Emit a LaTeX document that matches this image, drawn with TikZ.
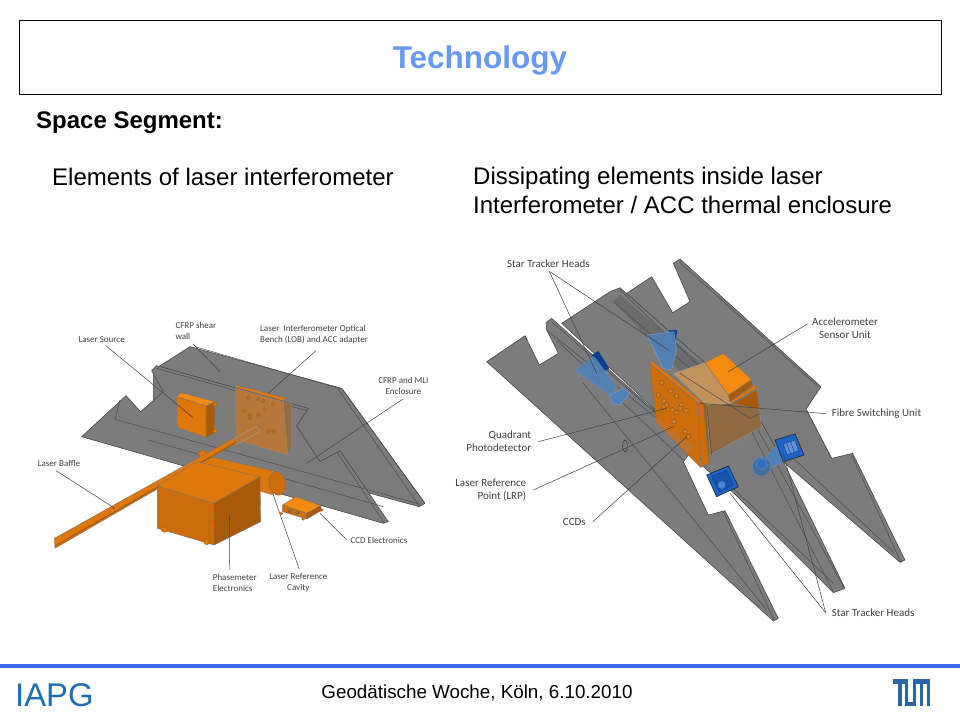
\documentclass[tikz,border=0pt]{standalone}
\usepackage{fontspec}
\setmainfont{Liberation Sans}
\newfontfamily\lblfont{Carlito}
\definecolor{titleblue}{HTML}{6699F5}
\definecolor{footblue}{HTML}{3C68E6}
\definecolor{iapgblue}{HTML}{1F6DB5}
\definecolor{tumblue}{HTML}{2A66A8}
\definecolor{plategray}{HTML}{7C7C7C}
\definecolor{orangeA}{HTML}{DF780C}
\definecolor{orangeB}{HTML}{CD6C0A}
\definecolor{orangeC}{HTML}{A85A08}
\definecolor{orangeL}{HTML}{F58A10}
\definecolor{tanA}{HTML}{B5773A}
\definecolor{tanB}{HTML}{C2935C}
\definecolor{tanC}{HTML}{8F6A42}
\definecolor{blueA}{HTML}{1E63C8}
\definecolor{blueB}{HTML}{4F82B8}
\definecolor{blueC}{HTML}{0C3F8C}
\tikzset{
  plate/.style={fill=plategray,draw=black!75,line width=.5pt,line join=round},
  edge/.style={draw=black!70,line width=.5pt},
  leader/.style={draw=black!75,line width=.5pt},
  lbl/.style={font=\lblfont\fontsize{9}{11}\selectfont,text=black!75,inner sep=1pt,align=center},
  lbll/.style={lbl,align=left,anchor=west},
  rlbl/.style={font=\lblfont\fontsize{11}{13}\selectfont,text=black!75,inner sep=1pt,align=center},
  rlbll/.style={rlbl,align=left,anchor=west},
  rlblr/.style={rlbl,align=right,anchor=east},
  org/.style={draw=black!55,line width=.35pt,line join=round},
  hole/.style={draw=orangeC,line width=.4pt,fill=tanA},
  slide/.style={font=\fontsize{24}{29}\selectfont,inner sep=0pt,align=left,anchor=west},
  tumbar/.style={fill=tumblue,draw=none},
  zoomleft/.style={shift={(20,300)},x=.33333pt,y=-.33333pt},
  zoomright/.style={shift={(450,240)},x=.33333pt,y=-.33333pt}
}
\begin{document}
\begin{tikzpicture}[x=1pt,y=-1pt]
\useasboundingbox (0,0) rectangle (960,720);
\fill[white] (0,0) rectangle (960,720);
% header
\draw[black,line width=1pt] (19.5,20.5) rectangle (941.5,94.5);
\node[font=\bfseries\fontsize{31.5}{36}\selectfont,text=titleblue,inner sep=0pt] (title) at (480,60) {Technology};
\node[slide,font=\bfseries\fontsize{24}{29}\selectfont] (seg) at (36,123) {Space Segment:};
\node[slide] (t1) at (52,177) {Elements of laser interferometer};
\node[slide,anchor=north west] (t2) at (473,167) {Dissipating elements inside laser\\Interferometer / ACC thermal enclosure};
% footer
\fill[footblue] (0,664) rectangle (960,668);
\node[font=\fontsize{32.8}{36}\selectfont,text=iapgblue,inner sep=0pt,anchor=west] (iapg) at (15,695) {IAPG};
\node[font=\fontsize{18.8}{24}\selectfont,inner sep=0pt] (foot) at (477,693) {Geodätische Woche, Köln, 6.10.2010};
\fill[tumbar] (893,679) rectangle (908,684);
\fill[tumbar] (897.5,684) rectangle (902,706);
\fill[tumbar] (905,684) rectangle (908,706);
\fill[tumbar] (905,701.5) rectangle (916,706);
\fill[tumbar] (913,679) rectangle (916,706);
\fill[tumbar] (913,679) rectangle (930,684);
\fill[tumbar] (920,684) rectangle (923,706);
\fill[tumbar] (927,684) rectangle (930,706);

% ---------- left figure
\begin{scope}[zoomleft]
% rear plate
\filldraw[plate] (400,210)--(510,140)--(965,265)--(1215,610)--(1197,620)--(830,520)--(400,400)--cycle;
\draw[edge] (525,140)--(968,268);
\draw[edge] (968,268)--(1215,610);
\draw[edge] (955,268)--(1197,617);
% front plate
\filldraw[plate] (185,410)--(318,287)--(362,335)--(430,275)--(395,212)--(410,197)--(865,325)--(830,378)--(900,485)--(960,452)--(1105,665)--(1090,670)--cycle;
\draw[edge] (410,205)--(860,332);
\draw[edge] (300,300)--(285,358)--(1197,612);
\draw[edge] (950,455)--(1092,668);
\draw[edge] (385,420)--(1090,620);
% laser source
\filldraw[org,fill=orangeC] (558,318)--(585,305)--(583,400)--(558,412)--cycle;
\filldraw[org,fill=orangeL] (470,290)--(482,278)--(585,305)--(558,318)--cycle;
\filldraw[org,fill=orangeA] (470,290)--(558,318)--(558,412)--(472,382)--cycle;
\filldraw[hole,fill=orangeA] (585,313) circle (6);
\filldraw[hole,fill=orangeA] (585,393) circle (6);
% bench
\filldraw[draw=black!45,line width=.3pt,fill=tanC] (790,305)--(815,310)--(815,435)--(803,465)--cycle;
\filldraw[draw=black!45,line width=.3pt,fill=tanA] (647,265)--(790,305)--(803,465)--(648,420)--cycle;
\filldraw[org,fill=orangeA] (647,255)--(795,293)--(792,303)--(647,262)--cycle;
\foreach \a/\b in {685/293,715/298,730/303,758/313,735/327,672/333,688/345,715/345,690/355,715/380,745/393,760/393}
  \filldraw[hole] (\a,\b) circle (5);
% cavity
\filldraw[org,fill=orangeA] (540,465)--(570,470)--(770,515)--(760,585)--(540,520)--cycle;
\filldraw[hole,fill=orangeA] (548,463) circle (12);
\filldraw[org,fill=orangeB,rotate around={10:(772,550)}] (772,550) ellipse (25 and 36);
% baffle
\filldraw[draw=black!35,line width=.3pt,fill=tanA] (640,418)--(712,378)--(720,395)--(648,434)--cycle;
\filldraw[org,fill=orangeA] (103,715)--(640,415)--(648,430)--(105,745)--cycle;
\draw[orangeC,line width=1.2pt] (105,738)--(646,428);
% phasemeter
\filldraw[org,fill=orangeC] (580,610)--(720,530)--(722,665)--(582,735)--cycle;
\filldraw[org,fill=orangeA] (412,558)--(530,485)--(720,530)--(580,610)--cycle;
\filldraw[org,fill=orangeB] (412,558)--(580,610)--(582,735)--(412,685)--cycle;
\filldraw[hole,fill=orangeA] (433,688) circle (9);
\filldraw[hole,fill=orangeA] (560,725) circle (9);
% CCD electronics
\filldraw[org,fill=orangeL] (788,615)--(828,590)--(903,617)--(860,640)--cycle;
\filldraw[org,fill=orangeB] (788,615)--(860,640)--(860,657)--(788,635)--cycle;
\filldraw[org,fill=orangeC] (860,640)--(903,617)--(903,632)--(860,657)--cycle;
\foreach \a/\b in {810/632,832/637} \filldraw[draw=black!70,line width=.3pt,fill=tanA] (\a,\b) circle (5);
\foreach \a/\b in {784/640,850/657,905/630} \filldraw[hole,fill=orangeA] (\a,\b) circle (4);
% labels
\node[lbl] (lsource) at (245,118) {Laser Source};
\node[lbll] (lwall) at (463,93) {CFRP shear\\wall};
\node[lbll] (lbench) at (717,105) {Laser\ \ Interferometer Optical\\Bench (LOB) and ACC adapter};
\node[lbl] (lmli) at (1150,258) {CFRP and MLI\\Enclosure};
\node[lbll] (lbaffle) at (50,490) {Laser Baffle};
\node[lbll] (lphase) at (575,849) {Phasemeter\\Electronics};
\node[lbl] (lcavity) at (835,849) {Laser Reference\\Cavity};
\node[lbll] (lccd) at (988,722) {CCD Electronics};
\coordinate (ea) at (518,352);
\coordinate (eb) at (600,215);
\coordinate (ec) at (745,280);
\coordinate (ed) at (860,490);
\coordinate (ee) at (285,625);
\coordinate (ef) at (628,645);
\coordinate (eg) at (760,585);
\coordinate (eh) at (900,640);
\draw[leader] ([xshift=4pt,yshift=-2pt]lsource.south)--(ea);
\draw[leader] ([xshift=-3pt,yshift=-3pt]lwall.south)--(eb);
\draw[leader] ([xshift=2pt,yshift=-5pt]lbench.south)--(ec);
\draw[leader] ([yshift=-3pt]lmli.south)--(ed);
\draw[leader] ([xshift=-3pt,yshift=-3pt]lbaffle.south)--(ee);
\draw[leader] ([xshift=-5pt,yshift=3pt]lphase.north)--(ef);
\draw[leader] ([xshift=1pt,yshift=3pt]lcavity.north)--(eg);
\draw[leader] ([xshift=-3pt,yshift=1pt]lccd.west)--(eh);
\end{scope}

% ---------- right figure
\begin{scope}[zoomright]
% rear fin
\filldraw[plate] (530,160)--(605,110)--(668,218)--(720,185)--(670,70)--(690,57)--(1113,440)--(1068,508)--(1145,655)--(1208,640)--(1365,960)--(1350,967)--(1005,670)--(800,450)--cycle;
\draw[edge] (690,68)--(1105,440);
\draw[edge] (1205,645)--(1352,965);
\draw[edge] (1070,510)--(1145,655);
\draw[edge] (1025,650)--(1335,940);
% middle fin
\filldraw[plate] (335,250)--(480,155)--(510,143)--(800,400)--(925,530)--(1000,665)--(1185,1045)--(1150,1058)--(850,758)--(760,680)--(735,620)--cycle;
\fill[gray!75!black,opacity=.6] (490,185)--(510,165)--(770,385)--(700,405)--cycle;
\draw[edge] (510,150)--(900,525)--(1180,1040);
\draw[edge] (490,185)--(880,525)--(1150,1055);
\draw[edge] (850,745)--(1150,1030);
% front fin
\filldraw[plate] (110,365)--(225,287)--(268,375)--(325,340)--(290,270)--(288,248)--(305,235)--(735,620)--(700,665)--(775,825)--(825,812)--(985,1135)--(970,1143)--cycle;
\draw[edge] (305,245)--(730,620);
\draw[edge] (290,270)--(620,535);
\draw[edge] (320,300)--(700,660);
\draw[edge] (820,815)--(972,1140);
\draw[edge] (400,430)--(950,1110);
% lens ring
\draw[draw=black!80,line width=.5pt] (525,618) ellipse (7 and 18);
\draw[draw=black!60,line width=.4pt] (542,618) ellipse (9 and 18);
% star tracker 1 (left)
\fill[blueC] (425,345)--(445,333)--(478,385)--(455,400)--cycle;
\filldraw[draw=blueC!60,line width=.4pt,fill=blueB,fill opacity=.9] (375,392)--(432,350)--(500,440)--(480,465)--cycle;
\filldraw[draw=blueC!50,line width=.3pt,fill=blueB] (480,465)--(520,445)--(540,460)--(510,495)--(485,490)--cycle;
% star tracker 2 (top)
\filldraw[draw=blueC!70,line width=.4pt,fill=blueC] (655,270)--(683,270)--(675,315)--cycle;
\filldraw[draw=blueC!50,line width=.4pt,fill=blueB,fill opacity=.9] (590,285)--(672,275)--(680,330)--(665,390)--(640,385)--cycle;
% accelerometer box
\filldraw[draw=black!40,line width=.3pt,fill=tanC] (770,495)--(850,490)--(927,508)--(935,560)--(780,645)--cycle;
\filldraw[draw=black!40,line width=.3pt,fill=tanB] (670,400)--(765,368)--(835,465)--(845,490)--(770,495)--cycle;
\filldraw[org,fill=orangeC] (850,490)--(920,450)--(927,508)--cycle;
\filldraw[org,fill=orangeA] (840,485)--(915,435)--(920,445)--(845,490)--cycle;
\filldraw[org,fill=orangeC] (835,465)--(905,418)--(908,435)--(840,485)--cycle;
\filldraw[org,fill=orangeL] (765,368)--(820,340)--(905,418)--(835,465)--cycle;
\draw[edge] (690,400)--(900,535)--(930,520);
\draw[edge] (770,495)--(785,645);
% orange board
\filldraw[org,fill=orangeB] (745,485)--(760,490)--(778,670)--(752,682)--cycle;
\filldraw[org,fill=orangeC] (760,490)--(768,495)--(780,665)--(778,670)--cycle;
\filldraw[org,fill=orangeA] (598,370)--(608,365)--(752,482)--(745,490)--cycle;
\filldraw[org,fill=orangeB] (598,370)--(745,490)--(752,682)--(620,550)--cycle;
\fill[tanA,opacity=.75] (615,530)--(700,600)--(735,620)--(715,640)--(620,550)--cycle;
\foreach \a/\b in {635/428,662/453,625/465,680/468,642/483,650/495,668/510,695/495,678/518,672/545,705/575,715/590,708/512,640/500,690/505}
  \filldraw[draw=black!65,line width=.35pt,fill=orangeA] (\a,\b) circle (7);
% star tracker 3 (right, with box)
\filldraw[draw=blueC!60,line width=.4pt,fill=blueB] (945,655)--(985,610)--(1005,665)--(960,682)--cycle;
\filldraw[draw=blueC!60,line width=.4pt,fill=blueB!85!black] (935,680) circle (28);
\filldraw[draw=blueC!60,line width=.4pt,fill=blueA!70!blueB] (935,672) circle (16);
\filldraw[draw=black!85,line width=.6pt,fill=blueA] (975,600)--(1035,582)--(1062,645)--(1000,665)--cycle;
\filldraw[draw=blueC,line width=.4pt,fill=blueA!70!white] (1000,612)--(1035,600)--(1045,632)--(1012,645)--cycle;
\draw[blueC,line width=.5pt] (1010,612)--(1022,640) (1022,606)--(1033,636);
% star tracker 4 (lower, square)
\filldraw[draw=black!85,line width=.6pt,fill=blueA] (770,705)--(835,678)--(865,740)--(800,770)--cycle;
\filldraw[draw=blueC,line width=.5pt,fill=blueA!85!black] (785,710)--(828,692)--(850,735)--(808,755)--cycle;
\draw[blueC,line width=.4pt] (798,722) arc (180:0:18);
\filldraw[draw=blueC,line width=.4pt,fill=blueA!80!white] (815,735) circle (13);
% labels
\node[rlbl] (rstarA) at (295,70) {Star Tracker Heads};
\node[rlbl] (racc) at (1185,266) {Accelerometer\\Sensor Unit};
\node[rlbll] (rfibre) at (1142,521) {Fibre Switching Unit};
\node[rlblr] (rquad) at (247,605) {Quadrant\\Photodetector};
\node[rlblr] (rlrp) at (232,750) {Laser Reference\\Point (LRP)};
\node[rlbl] (rccd) at (373,845) {CCDs};
\node[rlbll] (rstarB) at (1142,1118) {Star Tracker Heads};
\coordinate (ra1) at (440,400);
\coordinate (ra2) at (655,330);
\coordinate (rb) at (835,395);
\coordinate (rc) at (750,490);
\coordinate (rd) at (650,505);
\coordinate (re) at (670,560);
\coordinate (rf) at (710,590);
\coordinate (rg1) at (840,760);
\coordinate (rg2) at (1000,640);
\draw[leader] ([xshift=1pt,yshift=-3pt]rstarA.south)--(ra1);
\draw[leader] ([xshift=1pt,yshift=-3pt]rstarA.south)--(ra2);
\draw[leader] ([xshift=-3pt,yshift=5pt]racc.west)--(rb);
\draw[leader] ([xshift=-5pt]rfibre.west)--(rc);
\draw[leader] ([xshift=6pt]rquad.east)--(rd);
\draw[leader] ([xshift=6pt]rlrp.east)--(re);
\draw[leader] ([xshift=6pt]rccd.east)--(rf);
\draw[leader] ([xshift=-5pt]rstarB.west)--(rg1);
\draw[leader] ([xshift=-5pt]rstarB.west)--(rg2);
\end{scope}
\end{tikzpicture}
\end{document}
